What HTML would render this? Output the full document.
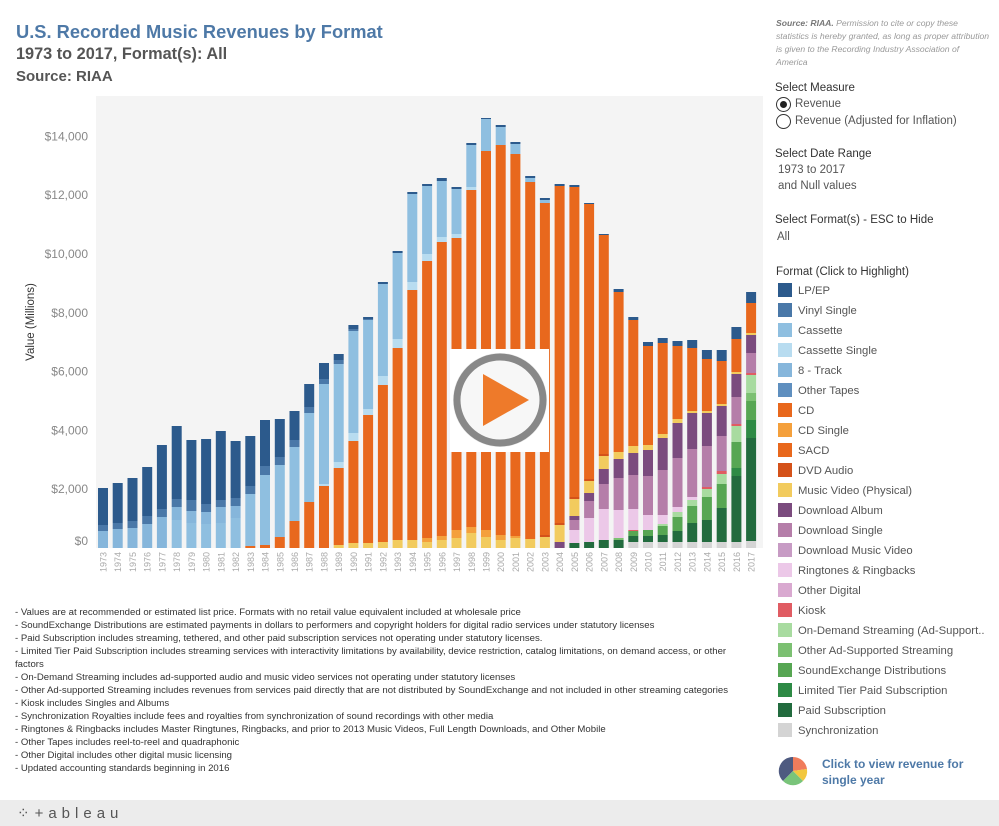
<!DOCTYPE html>
<html><head><meta charset="utf-8">
<style>
body{margin:0;width:999px;height:826px;background:#fff;font-family:"Liberation Sans",sans-serif;position:relative;overflow:hidden}
.a{position:absolute;white-space:nowrap}
.t1{left:16px;top:21px;font-size:18.3px;font-weight:bold;color:#4e79a7}
.t2{left:16px;top:45px;font-size:16.3px;font-weight:bold;color:#555}
.t3{left:16px;top:68px;font-size:15px;font-weight:bold;color:#555}
.note{left:15px;font-size:9.6px;color:#333}
.rh{font-size:11.5px;color:#333}
.rv{font-size:11.5px;color:#555}
.lg{left:778px;font-size:11.3px;color:#555}
.lg i{display:inline-block;width:14px;height:14px;vertical-align:-3px;margin-right:6px}
</style></head><body>
<div class="a t1">U.S. Recorded Music Revenues by Format</div>
<div class="a t2">1973 to 2017, Format(s): All</div>
<div class="a t3">Source: RIAA</div>

<svg class="a" style="left:0;top:0" width="999" height="826" id="ch">
<rect x="96" y="96" width="667" height="452" fill="#f4f4f4"/>
<text x="34" y="322" transform="rotate(-90 34 322)" text-anchor="middle" font-size="11.5" fill="#333" font-family="Liberation Sans">Value (Millions)</text>
</svg>

<div class="a" style="left:776px;top:17px;width:215px;font-size:8.6px;line-height:13px;color:#999;font-style:italic;white-space:normal"><b style="color:#777">Source: RIAA.</b> Permission to cite or copy these statistics is hereby granted, as long as proper attribution is given to the Recording Industry Association of America</div>
<div class="a rh" style="left:775px;top:82px">Select Measure</div>
<div class="a" style="left:776px;top:97px;width:13px;height:13px;border:1px solid #333;border-radius:50%"></div>
<div class="a" style="left:780px;top:101px;width:7px;height:7px;background:#222;border-radius:50%"></div>
<div class="a rv" style="left:795px;top:98px">Revenue</div>
<div class="a" style="left:776px;top:114px;width:13px;height:13px;border:1px solid #333;border-radius:50%"></div>
<div class="a rv" style="left:795px;top:115px">Revenue (Adjusted for Inflation)</div>
<div class="a rh" style="left:775px;top:148px">Select Date Range</div>
<div class="a rv" style="left:778px;top:164px">1973 to 2017</div>
<div class="a rv" style="left:778px;top:180px">and Null values</div>
<div class="a rh" style="left:775px;top:214px">Select Format(s) - ESC to Hide</div>
<div class="a rv" style="left:777px;top:231px">All</div>
<div class="a rh" style="left:776px;top:266px">Format (Click to Highlight)</div>
<div id="leg"></div>
<svg class="a" style="left:777px;top:755px" width="34" height="34">
<path d="M16 16 L16 2 A14 14 0 0 0 6 26 Z" fill="#4e5a80"/>
<path d="M16 16 L16 2 A14 14 0 0 1 30 14 Z" fill="#f07c5c"/>
<path d="M16 16 L30 14 A14 14 0 0 1 26 26 Z" fill="#f2c73e"/>
<path d="M16 16 L26 26 A14 14 0 0 1 6 26 Z" fill="#79c47a"/>
</svg>
<div class="a" style="left:822px;top:756px;font-size:12px;font-weight:bold;color:#4e79a7;line-height:16px">Click to view revenue for<br>single year</div>

<div class="a note" style="top:606px;line-height:13px">
- Values are at recommended or estimated list price. Formats with no retail value equivalent included at wholesale price<br>
- SoundExchange Distributions are estimated payments in dollars to performers and copyright holders for digital radio services under statutory licenses<br>
- Paid Subscription includes streaming, tethered, and other paid subscription services not operating under statutory licenses.<br>
- Limited Tier Paid Subscription includes streaming services with interactivity limitations by availability, device restriction, catalog limitations, on demand access, or other<br>factors<br>
- On-Demand Streaming includes ad-supported audio and music video services not operating under statutory licenses<br>
- Other Ad-supported Streaming includes revenues from services paid directly that are not distributed by SoundExchange and not included in other streaming categories<br>
- Kiosk includes Singles and Albums<br>
- Synchronization Royalties include fees and royalties from synchronization of sound recordings with other media<br>
- Ringtones &amp; Ringbacks includes Master Ringtunes, Ringbacks, and prior to 2013 Music Videos, Full Length Downloads, and Other Mobile<br>
- Other Tapes includes reel-to-reel and quadraphonic<br>
- Other Digital includes other digital music licensing<br>
- Updated accounting standards beginning in 2016</div>
<div class="a" style="left:0;top:800px;width:999px;height:26px;background:#ececec"></div>
<div class="a" style="left:17px;top:804px;font-size:15px;color:#555;letter-spacing:5px">⁘+ableau</div>

<script>
var C={L:"#2c5a8c",V:"#4a78a8",C:"#8fbfe0",S:"#b8dcf0",E:"#86b6db",O:"#5f8fbf",D:"#e8681d",d:"#f4a03c",A:"#d4521a",M:"#f2cb5e",a:"#7b4b7e",s:"#b57ea9",v:"#c79bc4",r:"#ecc8e8",g:"#d9a9d0",k:"#e05c63",o:"#a8dba0",t:"#7cc072",x:"#57a653",l:"#2e8a45",p:"#226b3e",y:"#d4d4d4"};
var names=[["L","LP/EP"],["V","Vinyl Single"],["C","Cassette"],["S","Cassette Single"],["E","8 - Track"],["O","Other Tapes"],["D","CD"],["d","CD Single"],["D","SACD"],["A","DVD Audio"],["M","Music Video (Physical)"],["a","Download Album"],["s","Download Single"],["v","Download Music Video"],["r","Ringtones & Ringbacks"],["g","Other Digital"],["k","Kiosk"],["o","On-Demand Streaming (Ad-Support.."],["t","Other Ad-Supported Streaming"],["x","SoundExchange Distributions"],["l","Limited Tier Paid Subscription"],["p","Paid Subscription"],["y","Synchronization"]];
var h="";names.forEach(function(n,i){h+='<div class="a lg" style="top:'+(283+i*20)+'px"><i style="background:'+C[n[0]]+'"></i>'+n[1].replace("&","&amp;")+'</div>';});
document.getElementById("leg").innerHTML=h;
var B=[
"E17V6L37","E19V6L40","E20V7L43","E24V8L49","E31V8L64","C28E13V8L73","C25E12V11L60","C24E12V8L65","C25E16V7L69","C30E12V8L57",
"D2C52V8L50","D3C70V9L46","D11C72V8L38","D27C74V7L29","D46C89V6L23","D62S2C100V5L16","M3D77S6C98V4L6","M5D102S8C102V2L4","M5D128S6C89V1L2","M6D157S9C92L2",
"M8D192S9C86L2","M8D250S8C88L2","M6d4D277S7C68L2","M8d4D294S5C56L3","M10d8D292S4C45L2","M15d6D337S3C42L2","M11d7D379C32L1","M8d5D390C18L2","M10d2D382C10L2","M9D357C4L2",
"M11A2D332C3L2","a6M17A2D337L2","p5r13s10a4M17A2D310L2","p6r24s17a8M12A2D275L1","p8r31s25a15M13A2D219L1","p8t2r28s32a19M7D160L3","y6p6x5k1r21s34a22M7D126L3","y6p6x6r15s39a26M5D99L4","y6p7x9o2r9s45a32M4D91L5","y6p11x14o5r5s49a35M4D73L5",
"y6p19x17o6r3s48a36M2D63L8","y6p22x23o8k2s41a33M2D52L9","y6p34x24o10k3s35a30M2D43L11","y6p66l8x26o16k2s27a23M2D33L12","y7p103l18x19t8o18k2s20a18M2D30L11"];
var s="",sv=document.getElementById("ch");
for(var v=0;v<=14;v+=2){var yy=548-v*29.4;s+='<text x="88" y="'+(v==0?545:yy+4)+'" text-anchor="end" font-size="12" fill="#888" font-family="Liberation Sans">$'+(v==0?"0":v+",000")+'</text>';}
B.forEach(function(b,i){var x=98+i*14.73,y=548,m=b.match(/[A-Za-z]\d+/g);
m.forEach(function(q){var hh=+q.slice(1);y-=hh;s+='<rect x="'+x.toFixed(1)+'" y="'+y+'" width="10" height="'+hh+'" fill="'+C[q[0]]+'"/>';});
var tx=x+8.5;s+='<text x="'+tx.toFixed(1)+'" y="552" transform="rotate(-90 '+tx.toFixed(1)+' 552)" text-anchor="end" font-size="9" fill="#aaa" font-family="Liberation Sans">'+(1973+i)+'</text>';});
s+='<rect x="450" y="349" width="99" height="103" fill="#fff"/>';
s+='<circle cx="500" cy="400" r="47" fill="#e8e8e8"/><circle cx="500" cy="400" r="43" fill="#f7f7f7" stroke="#888" stroke-width="7"/>';
s+='<path d="M483 374 L529 400 L483 426 Z" fill="#ee7a2a"/>';
sv.innerHTML+=s;
</script>
</body></html>
